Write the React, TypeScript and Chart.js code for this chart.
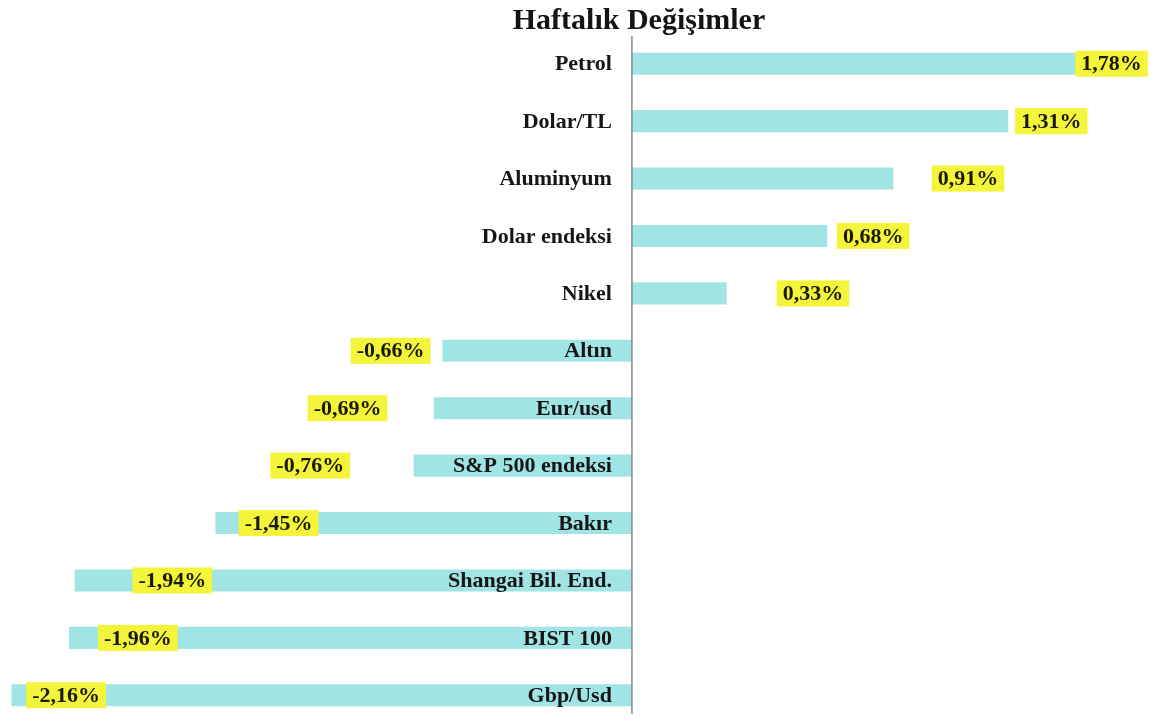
import React, { useEffect, useRef } from "react";
import { Chart, registerables } from "chart.js";

Chart.register(...registerables);

const title = "Haftalık Değişimler";
const categories = [
  "Petrol",
  "Dolar/TL",
  "Aluminyum",
  "Dolar endeksi",
  "Nikel",
  "Altın",
  "Eur/usd",
  "S&P 500 endeksi",
  "Bakır",
  "Shangai Bil. End.",
  "BIST 100",
  "Gbp/Usd",
];
const values = [1.78, 1.31, 0.91, 0.68, 0.33, -0.66, -0.69, -0.76, -1.45, -1.94, -1.96, -2.16];
// where each value label sits (in axis units), as placed in the original
const labelAt = [1.67, 1.46, 1.17, 0.84, 0.63, -0.84, -0.99, -1.12, -1.23, -1.6, -1.72, -1.97];

const fmt = (v: number) => v.toFixed(2).replace(".", ",") + "%";

const SERIF = '"Liberation Serif", "Times New Roman", serif';

const overlay = {
  id: "overlay",
  afterDatasetsDraw(chart: any) {
    const { ctx, chartArea } = chart;
    const xs = chart.scales.x;
    const ys = chart.scales.y;
    const zx = xs.getPixelForValue(0);
    ctx.save();
    // title
    ctx.fillStyle = "#141414";
    ctx.font = `bold 30px ${SERIF}`;
    ctx.textAlign = "center";
    ctx.textBaseline = "middle";
    ctx.fillText(title, 639, 21);
    // axis line
    ctx.strokeStyle = "#8a8a8a";
    ctx.lineWidth = 1.5;
    ctx.beginPath();
    ctx.moveTo(zx, chartArea.top + 1);
    ctx.lineTo(zx, 714);
    ctx.stroke();
    // category labels
    ctx.font = `bold 22px ${SERIF}`;
    ctx.textAlign = "right";
    ctx.fillStyle = "#161616";
    categories.forEach((c, i) => {
      const y = ys.getPixelForValue(i);
      ctx.fillText(c, zx - 20, y + 1);
    });
    // value labels
    ctx.font = `bold 22px ${SERIF}`;
    ctx.textAlign = "center";
    values.forEach((v, i) => {
      const y = ys.getPixelForValue(i);
      const cx = xs.getPixelForValue(labelAt[i]);
      const t = fmt(v);
      const w = ctx.measureText(t).width + 12;
      ctx.fillStyle = "#f4f43a";
      ctx.fillRect(cx - w / 2, y - 13, w, 26);
      ctx.fillStyle = "#1a1a08";
      ctx.fillText(t, cx, y + 1);
    });
    ctx.restore();
  },
};

export default function App() {
  const ref = useRef<HTMLCanvasElement>(null);
  useEffect(() => {
    if (!ref.current) return;
    const chart = new Chart(ref.current, {
      type: "bar",
      data: {
        labels: categories,
        datasets: [
          {
            data: values,
            backgroundColor: "#a0e4e4",
            borderWidth: 0,
            categoryPercentage: 1,
            barPercentage: 0.385,
          },
        ],
      },
      options: {
        indexAxis: "y",
        responsive: false,
        animation: false,
        layout: { padding: { top: 35, left: 0, right: 0, bottom: 0 } },
        plugins: { legend: { display: false }, tooltip: { enabled: false }, title: { display: false } },
        scales: {
          x: { display: false, min: -2.2, max: 1.835 },
          y: { display: false, offset: true },
        },
      },
      plugins: [overlay],
    });
    return () => chart.destroy();
  }, []);
  return (
    <div style={{ position: "fixed", left: 0, top: 0, width: 1159, height: 719, overflow: "hidden", background: "#fff" }}>
      <canvas ref={ref} width={1159} height={724} style={{ display: "block" }} />
    </div>
  );
}
